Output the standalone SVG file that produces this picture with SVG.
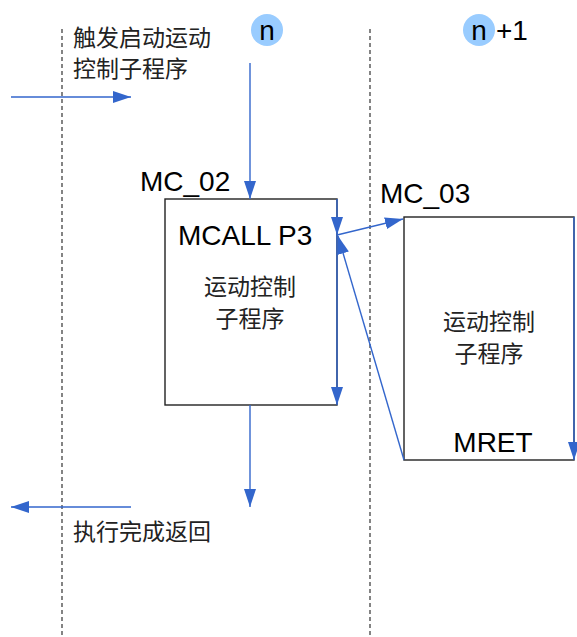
<svg xmlns="http://www.w3.org/2000/svg" width="577" height="637" viewBox="0 0 577 637">
<style>
.dash{stroke:#333;stroke-width:1.2;stroke-dasharray:4,3;fill:none}
.con{stroke:#3366CC;stroke-width:1.4;fill:none}
.box{fill:#fff;stroke:#222;stroke-width:1.4}
.cn{font-family:"Liberation Sans","Noto Sans CJK SC",sans-serif;font-size:23px;fill:#222}
.en{font-family:"Liberation Sans",Arial,sans-serif;font-size:28px;fill:#000}
.circ{fill:#99CCFF}
</style>
<defs>
<marker id="ah" viewBox="0 0 18 12" refX="18" refY="6" markerWidth="18" markerHeight="12" markerUnits="userSpaceOnUse" orient="auto">
<path d="M0,0 L18,6 L0,12 Z" fill="#3366CC"/>
</marker>
</defs>
<g id="lanes">
<line class="dash" x1="62" y1="29" x2="62" y2="637"/>
<line class="dash" x1="370" y1="29" x2="370" y2="637"/>
</g>
<g id="step-n">
<circle class="circ" cx="267" cy="30" r="16"/>
<text class="en" x="267" y="40" text-anchor="middle">n</text>
</g>
<g id="step-n1">
<circle class="circ" cx="479" cy="30" r="16"/>
<text class="en" x="479" y="40" text-anchor="middle">n</text>
<text class="en" x="496" y="40">+1</text>
</g>
<g id="trigger-label">
<text class="cn" x="73" y="46">触发启动运动</text>
<text class="cn" x="73" y="77">控制子程序</text>
</g>
<g id="return-label">
<text class="cn" x="73" y="540">执行完成返回</text>
</g>
<g id="mc02">
<rect class="box" x="165" y="199" width="172" height="206"/>
<text class="en" x="140" y="191">MC_02</text>
<text class="en" x="178" y="245">MCALL P3</text>
<text class="cn" x="250" y="295" text-anchor="middle">运动控制</text>
<text class="cn" x="250" y="327" text-anchor="middle">子程序</text>
</g>
<g id="mc03">
<rect class="box" x="404" y="217" width="170" height="243"/>
<text class="en" x="380" y="203">MC_03</text>
<text class="cn" x="489" y="330" text-anchor="middle">运动控制</text>
<text class="cn" x="489" y="362" text-anchor="middle">子程序</text>
<text class="en" x="493" y="452" text-anchor="middle">MRET</text>
</g>
<g id="connectors">
<line class="con" x1="11" y1="97" x2="131" y2="97" marker-end="url(#ah)"/>
<line class="con" x1="250" y1="63" x2="250" y2="199" marker-end="url(#ah)"/>
<line class="con" x1="337" y1="199" x2="337" y2="235" marker-end="url(#ah)"/>
<line class="con" x1="337" y1="235" x2="337" y2="405" marker-end="url(#ah)"/>
<line class="con" x1="337" y1="235" x2="403" y2="219" marker-end="url(#ah)"/>
<line class="con" x1="404" y1="460" x2="338" y2="236" marker-end="url(#ah)"/>
<line class="con" x1="574" y1="217" x2="574" y2="460" marker-end="url(#ah)"/>
<line class="con" x1="250" y1="405" x2="250" y2="507" marker-end="url(#ah)"/>
<line class="con" x1="131" y1="507" x2="11" y2="507" marker-end="url(#ah)"/>
</g>
</svg>
